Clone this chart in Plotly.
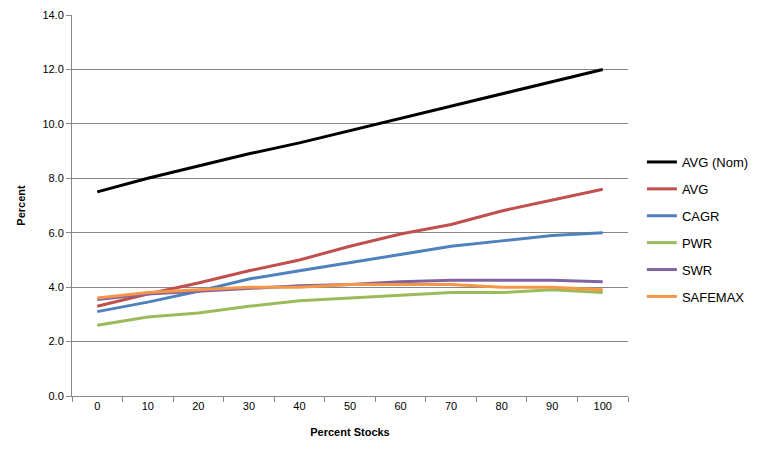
import plotly.graph_objects as go

categories = ["0", "10", "20", "30", "40", "50", "60", "70", "80", "90", "100"]
avg_nom = [7.5, 8.0, 8.45, 8.9, 9.3, 9.75, 10.2, 10.65, 11.1, 11.55, 12.0]
avg = [3.3, 3.75, 4.15, 4.6, 5.0, 5.5, 5.95, 6.3, 6.8, 7.2, 7.6]
cagr = [3.1, 3.45, 3.85, 4.3, 4.6, 4.9, 5.2, 5.5, 5.7, 5.9, 6.0]
pwr = [2.6, 2.9, 3.05, 3.3, 3.5, 3.6, 3.7, 3.8, 3.8, 3.9, 3.8]
swr = [3.55, 3.75, 3.85, 3.95, 4.05, 4.1, 4.2, 4.25, 4.25, 4.25, 4.2]
safemax = [3.6, 3.8, 3.9, 4.0, 4.0, 4.1, 4.1, 4.1, 4.0, 4.0, 3.9]
y_ticks = [0, 2, 4, 6, 8, 10, 12, 14]

series = [
    ("AVG (Nom)", avg_nom, "#000000"),
    ("AVG", avg, "#C0504D"),
    ("CAGR", cagr, "#4F81BD"),
    ("PWR", pwr, "#9BBB59"),
    ("SWR", swr, "#8064A2"),
    ("SAFEMAX", safemax, "#F79646"),
]

fig = go.Figure()
for name, vals, color in series:
    fig.add_trace(go.Scatter(
        x=categories, y=vals, name=name, mode="lines",
        line=dict(color=color, width=3), legendgroup=name,
    ))

font_family = "Liberation Sans, Arial, sans-serif"
fig.update_layout(
    width=756, height=449,
    margin=dict(l=64, r=136, t=7, b=61, autoexpand=False),
    paper_bgcolor="white", plot_bgcolor="white",
    font=dict(family=font_family, size=11, color="#000000"),
    showlegend=True,
    legend=dict(
        x=1.025, xanchor="left", y=0.437, yanchor="middle",
        font=dict(size=13, color="#000000"),
        tracegroupgap=7, itemwidth=30,
        bgcolor="rgba(0,0,0,0)",
    ),
    xaxis=dict(
        type="category", tickson="boundaries", ticks="outside", ticklen=5,
        tickcolor="#868686", showline=True, linecolor="#868686", linewidth=1,
        showgrid=False, tickfont=dict(size=11), automargin=False,
        title=dict(text="<b>Percent Stocks</b>", font=dict(size=11), standoff=17),
        range=[-0.5, 10.5],
    ),
    yaxis=dict(
        range=[0, 14], tickvals=y_ticks, tickformat=".1f",
        ticks="outside", ticklen=5, tickcolor="#868686",
        showline=True, linecolor="#868686", linewidth=1,
        showgrid=True, gridcolor="#868686", gridwidth=1,
        zeroline=False, tickfont=dict(size=11), automargin=False,
        title=dict(text="<b>Percent</b>", font=dict(size=11), standoff=14),
    ),
)

fig.write_html("out.html")
